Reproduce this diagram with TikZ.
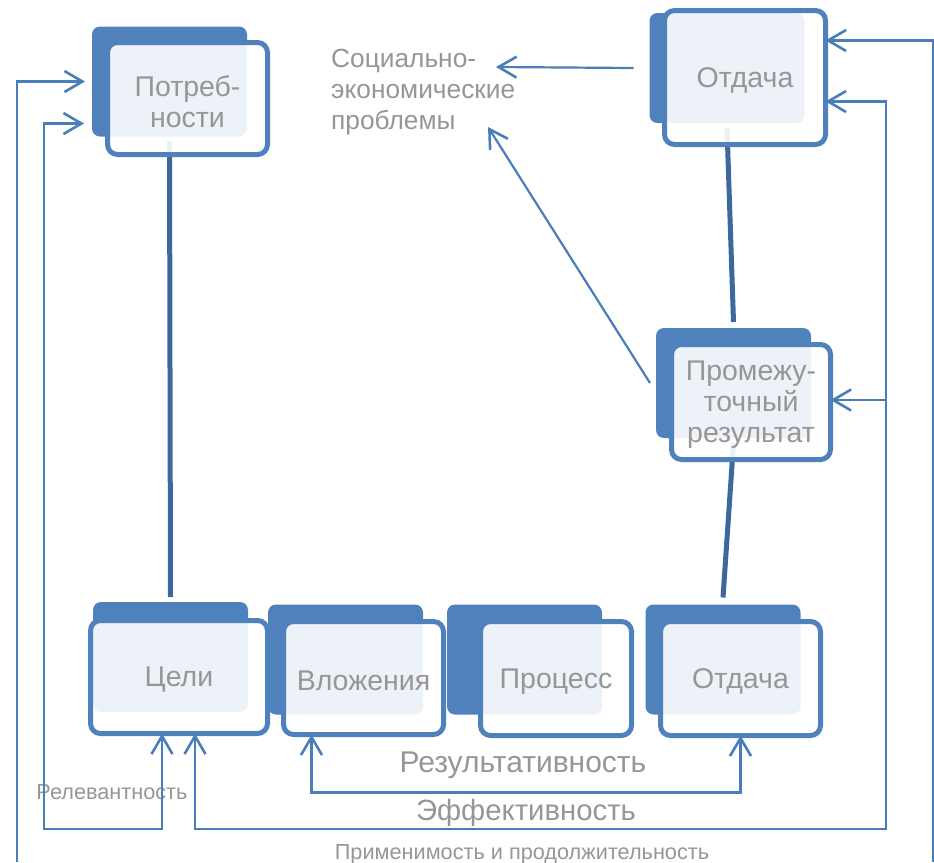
\documentclass[tikz,border=0pt]{standalone}
\usepackage{fontspec}
\setmainfont{Liberation Sans}
\usetikzlibrary{arrows.meta}
\definecolor{boxblue}{RGB}{79,129,189}
\definecolor{linkblue}{RGB}{74,126,187}
\definecolor{spineblue}{RGB}{62,103,155}
\definecolor{txtgray}{RGB}{150,150,150}
\tikzset{
  back/.style={fill=boxblue, rounded corners=8pt, inner sep=0pt, outer sep=0pt,
    minimum width=155pt, minimum height=110pt},
  front/.style={draw=boxblue, line width=5pt, fill=white, fill opacity=0.9,
    rounded corners=10pt, inner sep=0pt, outer sep=0pt},
  boxtext/.style={text=txtgray, text opacity=1, fill opacity=1, align=center, yshift=-3pt,
    font=\fontsize{28.5}{31}\selectfont},
  spine/.style={draw=spineblue, line width=5pt},
  feed/.style={draw=linkblue, line width=2.2pt},
  note/.style={text=txtgray, inner sep=0pt},
  >={Straight Barb[length=18pt,width=21pt,line width=2.6pt]}
}

\begin{document}
\begin{tikzpicture}[x=1pt,y=-1pt]
        \useasboundingbox (0,0) rectangle (934,862);
        % back plates
        \node[back] (needback) at (169.5,81.5) {};
        \node[back] (outtopback) at (727,68) {};
        \node[back] (midback) at (733.5,383) {};
        \node[back] (goalback) at (170.5,657) {};
        \node[back] (inpback) at (345.5,659.5) {};
        \node[back] (procback) at (524.5,659.5) {};
        \node[back] (outback) at (723,659.5) {};
        % chain lines
        \draw[spine] ([yshift=-5pt]needback.south) -- ([yshift=5pt]goalback.north);
        \draw[spine] ([yshift=-5pt]outtopback.south) -- ([yshift=6pt]midback.north);
        \draw[spine] ([yshift=-5pt]midback.south) -- ([yshift=7pt]outback.north);
        % front boxes
        \node[front, minimum width=160pt, minimum height=112pt,
          label={[boxtext]center:{Потреб-\\ности}}] (need) at (187.5,98.5) {};
        \node[front, minimum width=161pt, minimum height=134pt,
          label={[boxtext]center:Отдача}] (outtop) at (745,77.5) {};
        \node[front, minimum width=159pt, minimum height=115pt,
          label={[boxtext]center:{Промежу-\\точный\\результат}}] (mid) at (751,402) {};
        \node[front, minimum width=177pt, minimum height=113pt,
          label={[boxtext]center:Цели}] (goal) at (179,677) {};
        \node[front, minimum width=160pt, minimum height=113pt,
          label={[boxtext]center:Вложения}] (inp) at (363.5,678) {};
        \node[front, minimum width=151pt, minimum height=114pt,
          label={[boxtext]center:Процесс}] (proc) at (556,678.5) {};
        \node[front, minimum width=160pt, minimum height=114pt,
          label={[boxtext]center:Отдача}] (out) at (740.5,678.5) {};
        % texts
        \node[note, align=left, anchor=west, font=\fontsize{26.3}{31}\selectfont] (probl) at (331,92)
          {Социально-\\экономические\\проблемы};
        \node[note, font=\fontsize{30}{31}\selectfont] (result) at (523,765) {Результативность};
        \node[note, font=\fontsize{29.3}{31}\selectfont] (effect) at (526,813) {Эффективность};
        \node[note, font=\fontsize{21.7}{24}\selectfont] (apply) at (522,854) {Применимость и продолжительность};
        \node[note, font=\fontsize{21.7}{24}\selectfont] (relev) at (112,792) {Релевантность};
        \coordinate (problin) at (496,67);
        \coordinate (problup) at (488,127);
        \coordinate (rtap) at (886,400);
        % feedback links
        \draw[feed,->] ([xshift=-16pt]outtopback.west) -- (problin);
        \draw[feed,->] ([xshift=-6pt]midback.west) -- (problup);
        \draw[feed,<->] ([xshift=-52pt]inp.south) -- ++(0,58) -| (out.south);
        \draw[feed,<->] ([xshift=16pt]goal.south) |- (886,829) |- ([yshift=-24pt]outtop.east);
        \draw[feed,->] (rtap) -- (rtap -| mid.east);
        \draw[feed,<->] ([xshift=-17pt]goal.south) |- (44,829) |- ([xshift=-8pt,yshift=-42pt]needback.west);
        \draw[feed,->] (17,862) |- ([xshift=-7pt]needback.west);
        \draw[feed,->] (933,862) |- ([yshift=37pt]outtop.east);
\end{tikzpicture}
\end{document}
